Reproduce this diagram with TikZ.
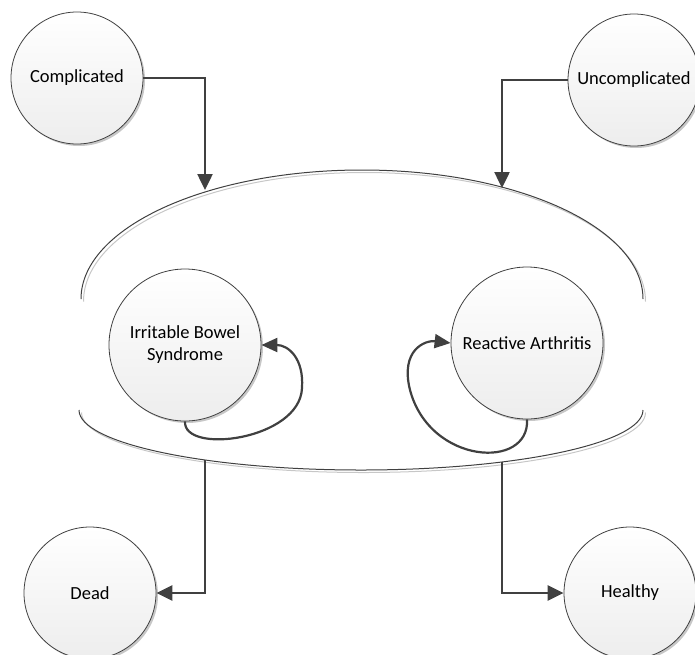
\documentclass[tikz,border=0pt]{standalone}
\usepackage{fontspec}
\setmainfont{Carlito}
\usetikzlibrary{arrows.meta,shadows}
\definecolor{lineGray}{HTML}{404040}

\tikzset{
  state/.style={circle, draw=lineGray, line width=0.8pt, top color=white, bottom color=black!7,
    minimum size=132pt, inner sep=0pt, align=center, font=\fontsize{18.5}{22}\selectfont,
    drop shadow={shadow xshift=2pt, shadow yshift=-2pt, fill=black, opacity=0.22}},
  bigstate/.style={state, minimum size=152pt},
  flow/.style={draw=lineGray, line width=2.5pt, -{Triangle[length=16pt,width=15pt]}},
  loopflow/.style={draw=lineGray, line width=2.2pt, -{Triangle[length=16pt,width=14pt]}},
  rim/.style={draw=lineGray, line width=1pt},
  rimshadow/.style={draw=black!22, line width=1pt},
}

\begin{document}
\begin{tikzpicture}[x=1pt,y=1pt]
        \useasboundingbox (0,0) rectangle (695,-654);

        \draw[rimshadow] (83.5,-301.5) arc[start angle=180, end angle=0, x radius=281, y radius=129];
        \draw[rim] (81,-299) arc[start angle=180, end angle=0, x radius=281, y radius=129];
        \draw[rimshadow] (81.5,-412.5) arc[start angle=180, end angle=360, x radius=282, y radius=60];
        \draw[rim] (79,-410) arc[start angle=180, end angle=360, x radius=282, y radius=60];

        \coordinate (inComp) at (205,-190);
        \coordinate (inUncomp) at (502,-188);
        \coordinate (outDead) at (205,-460);
        \coordinate (outHealthy) at (502,-462);

        \node[state] (comp) at (77,-78) {Complicated};
        \node[state] (uncomp) at (634,-80) {Uncomplicated};
        \node[bigstate] (ibs) at (185,-345) {Irritable Bowel\\Syndrome};
        \node[bigstate] (ra) at (527,-343) {Reactive Arthritis};
        \node[state] (dead) at (90,-593) {Dead};
        \node[state] (healthy) at (630,-593) {Healthy};

        \draw[flow] (comp.east) -| (inComp);
        \draw[flow] (uncomp.west) -| (inUncomp);
        \draw[flow] (outDead) |- (dead.east);
        \draw[flow] (outHealthy) |- (healthy.west);

        \draw[loopflow] (ibs.south) .. controls (183,-455) and (300,-440) .. (302,-388)
            .. controls (304,-358) and (288,-345) .. (ibs.east);
        \draw[loopflow] (ra.south) .. controls (530,-470) and (430,-465) .. (410,-390)
            .. controls (400,-350) and (425,-340) .. (ra.west);
\end{tikzpicture}
\end{document}
